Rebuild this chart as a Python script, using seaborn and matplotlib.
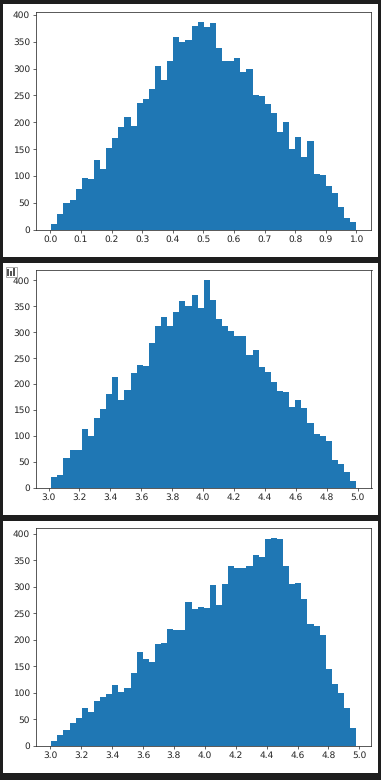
import numpy as np
import seaborn as sns
import matplotlib
matplotlib.use("Agg")
import matplotlib.pyplot as plt
from matplotlib.patches import Rectangle
from matplotlib.ticker import MultipleLocator

counts_a = [10, 28, 49, 55, 75, 96, 94, 129, 113, 152,
            170, 191, 210, 193, 236, 243, 262, 305, 279, 314,
            359, 350, 353, 379, 387, 378, 385, 338, 314, 314,
            320, 294, 299, 251, 249, 234, 217, 182, 200, 150,
            172, 135, 165, 103, 101, 81, 68, 42, 21, 14]
counts_b = [20, 24, 57, 72, 72, 113, 99, 134, 152, 181,
            214, 169, 188, 221, 237, 235, 279, 312, 330, 312,
            339, 361, 351, 372, 347, 401, 363, 326, 312, 303,
            293, 293, 256, 266, 233, 223, 204, 186, 185, 155,
            169, 154, 125, 103, 99, 90, 53, 45, 30, 12]
counts_c = [8, 20, 29, 42, 52, 71, 63, 84, 91, 97,
            114, 101, 109, 137, 177, 163, 158, 192, 194, 220,
            218, 218, 271, 258, 262, 260, 303, 266, 305, 338,
            336, 336, 338, 360, 356, 389, 392, 389, 339, 305,
            307, 277, 230, 226, 209, 144, 116, 99, 71, 33]

range_a = (0.003, 0.9995)
range_b = (3.0175, 4.99)
range_c = (3.0065, 4.98)
x_steps = [0.1, 0.2, 0.2]

W, H = 381, 780
BG = "#1e1e1e"
TXT = "#262626"

plt.rcParams.update({
    "font.family": "DejaVu Sans",
    "font.size": 8.6,
    "text.hinting": "none",
    "text.hinting_factor": 1,
    "axes.linewidth": 0.75,
    "axes.edgecolor": TXT,
    "xtick.color": TXT,
    "ytick.color": TXT,
    "xtick.major.size": 3,
    "ytick.major.size": 3,
    "xtick.major.width": 0.7,
    "ytick.major.width": 0.7,
})


def panel(fig, x0, y0, x1, y1, **kw):
    # rectangle given in pixels from top left
    r = Rectangle((x0 / W, 1 - y1 / H), (x1 - x0) / W, (y1 - y0) / H,
                  transform=fig.transFigure, **kw)
    fig.add_artist(r)
    return r


def hist(fig, counts, rng, step, box):
    left, top, right, bottom = box
    ax = fig.add_axes([left / W, 1 - bottom / H, (right - left) / W, (bottom - top) / H])
    edges = np.linspace(rng[0], rng[1], len(counts) + 1)
    centers = (edges[:-1] + edges[1:]) / 2
    sns.histplot(x=centers, weights=counts, bins=len(counts), binrange=rng, color="#1f77b4",
                 alpha=1, linewidth=0, ax=ax)
    ax.set(xlabel=None, ylabel=None)
    ax.xaxis.set_major_locator(MultipleLocator(step))
    ax.yaxis.set_major_locator(MultipleLocator(50))
    ax.tick_params(pad=3)
    ax.set_ylim(0, max(counts) * 1.05)
    return ax


fig = plt.figure(figsize=(W / 72, H / 72), dpi=72, facecolor=BG)
panel(fig, 3, 4, 378, 257, color="white", lw=0, zorder=-1)
panel(fig, 3, 263, 378, 515, color="white", lw=0, zorder=-1)
panel(fig, 3, 521, 378, 773, color="white", lw=0, zorder=-1)

hist(fig, counts_a, range_a, x_steps[0], (36, 11.5, 371.5, 229.5))
hist(fig, counts_b, range_b, x_steps[1], (36, 269.5, 371.5, 487.5))
hist(fig, counts_c, range_c, x_steps[2], (36, 527.5, 371.5, 745.5))

# small chart icon in the corner of the middle panel
panel(fig, 5.5, 266.5, 16.5, 277, fill=False, ec="#9a9a9a", lw=0.8, zorder=5)
for bx, bw, by in [(6.7, 2.6, 269), (10, 2, 271), (13.3, 2, 268)]:
    panel(fig, bx, by, bx + bw, 275.5, color="#555555", lw=0, zorder=5)

fig.savefig("out.png", dpi=72, facecolor=BG)
